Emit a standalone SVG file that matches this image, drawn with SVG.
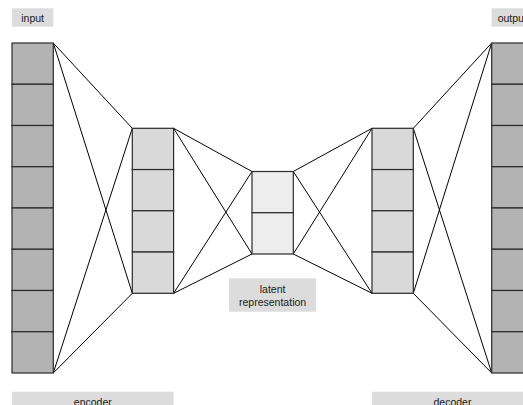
<svg xmlns="http://www.w3.org/2000/svg" width="523" height="405" viewBox="0 0 523 405">
<style>
.lbl{fill:#dcdcdc;stroke:none}
.t{font-family:"Liberation Sans",Arial,sans-serif;font-size:10.5px;fill:#1a1a1a;text-anchor:middle;dominant-baseline:central}
.c1{fill:#b3b3b3;stroke:#2b2b2b;stroke-width:1.2}
.c2{fill:#d9d9d9;stroke:#2b2b2b;stroke-width:1.2}
.c3{fill:#ededed;stroke:#2b2b2b;stroke-width:1.2}
.e{stroke:#000;stroke-width:1;fill:none}
</style>
<rect width="523" height="405" fill="#fff"/>
<g id="connectors">
<path class="e" d="M53.3,43 L132.3,128.3 M53.3,43 L132.3,293.3 M53.3,373 L132.3,128.3 M53.3,373 L132.3,293.3"/>
<path class="e" d="M173.6,128.3 L252,171.5 M173.6,128.3 L252,254 M173.6,293.3 L252,171.5 M173.6,293.3 L252,254"/>
<path class="e" d="M293.3,171.5 L372,128.3 M293.3,171.5 L372,293.3 M293.3,254 L372,128.3 M293.3,254 L372,293.3"/>
<path class="e" d="M413.3,128.3 L491.7,43 M413.3,128.3 L491.7,373 M413.3,293.3 L491.7,43 M413.3,293.3 L491.7,373"/>
</g>
<g id="input">
<rect class="c1" x="12" y="43" width="41.3" height="41.25"/>
<rect class="c1" x="12" y="84.25" width="41.3" height="41.25"/>
<rect class="c1" x="12" y="125.5" width="41.3" height="41.25"/>
<rect class="c1" x="12" y="166.75" width="41.3" height="41.25"/>
<rect class="c1" x="12" y="208" width="41.3" height="41.25"/>
<rect class="c1" x="12" y="249.25" width="41.3" height="41.25"/>
<rect class="c1" x="12" y="290.5" width="41.3" height="41.25"/>
<rect class="c1" x="12" y="331.75" width="41.3" height="41.25"/>
</g>
<g id="encoder-hidden">
<rect class="c2" x="132.3" y="128.3" width="41.3" height="41.25"/>
<rect class="c2" x="132.3" y="169.55" width="41.3" height="41.25"/>
<rect class="c2" x="132.3" y="210.8" width="41.3" height="41.25"/>
<rect class="c2" x="132.3" y="252.05" width="41.3" height="41.25"/>
</g>
<g id="latent">
<rect class="c3" x="252" y="171.5" width="41.3" height="41.25"/>
<rect class="c3" x="252" y="212.75" width="41.3" height="41.25"/>
</g>
<g id="decoder-hidden">
<rect class="c2" x="372" y="128.3" width="41.3" height="41.25"/>
<rect class="c2" x="372" y="169.55" width="41.3" height="41.25"/>
<rect class="c2" x="372" y="210.8" width="41.3" height="41.25"/>
<rect class="c2" x="372" y="252.05" width="41.3" height="41.25"/>
</g>
<g id="output">
<rect class="c1" x="491.7" y="43" width="41.3" height="41.25"/>
<rect class="c1" x="491.7" y="84.25" width="41.3" height="41.25"/>
<rect class="c1" x="491.7" y="125.5" width="41.3" height="41.25"/>
<rect class="c1" x="491.7" y="166.75" width="41.3" height="41.25"/>
<rect class="c1" x="491.7" y="208" width="41.3" height="41.25"/>
<rect class="c1" x="491.7" y="249.25" width="41.3" height="41.25"/>
<rect class="c1" x="491.7" y="290.5" width="41.3" height="41.25"/>
<rect class="c1" x="491.7" y="331.75" width="41.3" height="41.25"/>
</g>
<g id="label-input">
<rect class="lbl" x="12" y="8.3" width="41.3" height="18.4"/>
<text class="t" x="32.6" y="18">input</text>
</g>
<g id="label-output">
<rect class="lbl" x="491.7" y="8.3" width="41.3" height="18.4"/>
<text class="t" x="512.3" y="18">output</text>
</g>
<g id="label-latent">
<rect class="lbl" x="229" y="278.3" width="87" height="33.4"/>
<text class="t" x="272.6" y="289">latent</text>
<text class="t" x="272.6" y="301.5">representation</text>
</g>
<g id="label-encoder">
<rect class="lbl" x="12" y="391.7" width="161.6" height="18.4"/>
<text class="t" x="92.8" y="401.5">encoder</text>
</g>
<g id="label-decoder">
<rect class="lbl" x="372" y="391.7" width="161" height="18.4"/>
<text class="t" x="452.5" y="401.5">decoder</text>
</g>
</svg>
